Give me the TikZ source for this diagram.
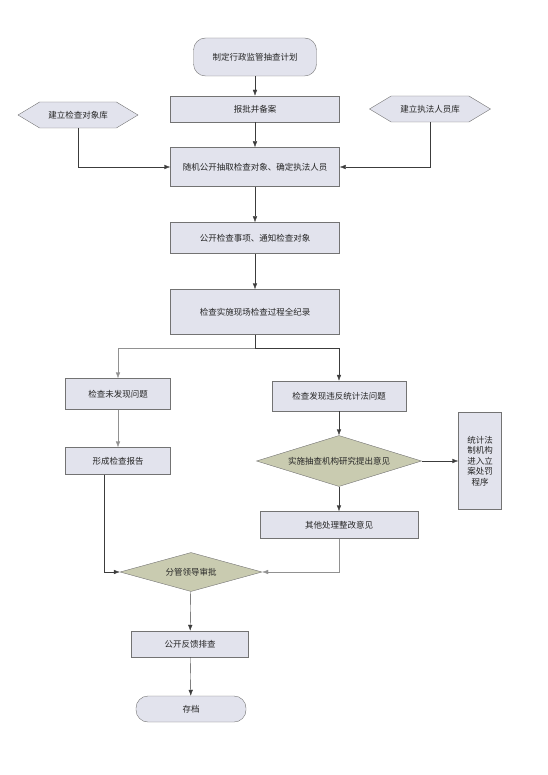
\documentclass[tikz,border=0pt]{standalone}
\usepackage{fontspec}
\setmainfont{Noto Sans CJK SC}
\usepackage{tikz}
\usetikzlibrary{shapes,arrows,arrows.meta,positioning,calc}
\usepackage{xcolor}
\definecolor{boxfill}{RGB}{226,227,237}
\definecolor{decfill}{RGB}{201,203,176}
\definecolor{edgegray}{RGB}{115,115,115}
\definecolor{linedark}{RGB}{60,60,60}
\definecolor{linelight}{RGB}{145,145,145}

\begin{document}
\begin{tikzpicture}[x=1pt, y=-1pt, >={Latex[length=6pt,width=4.5pt]},
    every node/.style={font=\fontsize{8.5pt}{10.5pt}\selectfont, text=black!85},
    stepbox/.style={draw=edgegray, fill=boxfill, inner sep=1pt},
    term/.style={draw=edgegray, fill=boxfill, rounded corners=12pt, inner sep=1pt},
    lib/.style={draw=edgegray, fill=boxfill, signal, signal to=west and east, signal pointer angle=62, inner sep=1pt},
    decide/.style={draw=edgegray, fill=decfill, diamond, inner sep=1pt},
    flow/.style={->, linedark, thin},
    flowlight/.style={->, linelight, thin}]
    \useasboundingbox (0,0) rectangle (547,775);

    % Plan
    \node[term, minimum width=123pt, minimum height=38pt] (plan) at (255,57) {制定行政监管抽查计划};

    % Report and file
    \node[stepbox, minimum width=169pt, minimum height=26pt] (report) at (255,109) {报批并备案};

    % Libraries
    \node[lib, minimum width=120pt, minimum height=26pt] (objlib) at (78,115) {建立检查对象库};
    \node[lib, minimum width=121pt, minimum height=26pt] (stafflib) at (430,109) {建立执法人员库};

    % Random draw
    \node[stepbox, minimum width=169pt, minimum height=39pt] (pick) at (255,167) {随机公开抽取检查对象、确定执法人员};

    % Notice
    \node[stepbox, minimum width=169pt, minimum height=31pt] (notice) at (255,238) {公开检查事项、通知检查对象};

    % Inspection
    \node[stepbox, minimum width=169pt, minimum height=45pt] (inspect) at (255,312) {检查实施现场检查过程全纪录};
    \coordinate (split) at (255,348);

    % Left branch
    \node[stepbox, minimum width=105pt, minimum height=31pt] (nofound) at (118,394) {检查未发现问题};
    \node[stepbox, minimum width=105pt, minimum height=27pt] (writeup) at (118,461) {形成检查报告};

    % Right branch
    \node[stepbox, minimum width=134pt, minimum height=30pt] (found) at (339,396) {检查发现违反统计法问题};
    \node[decide, minimum width=165pt, minimum height=51pt, aspect=3.2] (study) at (339,461) {实施抽查机构研究提出意见};
    \node[stepbox, minimum width=43pt, minimum height=97pt, text width=40pt, align=center] (legal) at (480,461) {统计法\\制机构\\进入立\\案处罚\\程序};
    \node[stepbox, minimum width=158pt, minimum height=27pt] (other) at (339,525) {其他处理整改意见};

    % Approval
    \node[decide, minimum width=142pt, minimum height=39pt, aspect=3.6] (approve) at (191,572) {分管领导审批};
    \node[stepbox, minimum width=117pt, minimum height=26pt] (publish) at (190,644) {公开反馈排查};
    \node[term, minimum width=110pt, minimum height=26pt] (archive) at (191,709) {存档};

    % Connectors
    \draw[flow] (plan) -- (report);
    \draw[flow] (report) -- (pick);
    \draw[flow] (objlib.south) |- (pick.west);
    \draw[flow] (stafflib.south) |- (pick.east);
    \draw[flow] (pick) -- (notice);
    \draw[flow] (notice) -- (inspect);
    \draw[linedark, thin] (inspect.south) -- (split);
    \draw[flowlight] (split) -| (nofound.north);
    \draw[flow] (split) -| (found.north);
    \draw[flowlight] (nofound) -- (writeup);
    \draw[flow] (found) -- (study);
    \draw[flow] (study) -- (legal);
    \draw[flow] (study) -- (other);
    \draw[flow] ([xshift=-14pt]writeup.south) |- (approve.west);
    \draw[flowlight] (other.south) |- (approve.east);
    \draw[flow] (approve) -- (publish);
    \draw[flow] (publish) -- (archive);
\end{tikzpicture}
\end{document}
